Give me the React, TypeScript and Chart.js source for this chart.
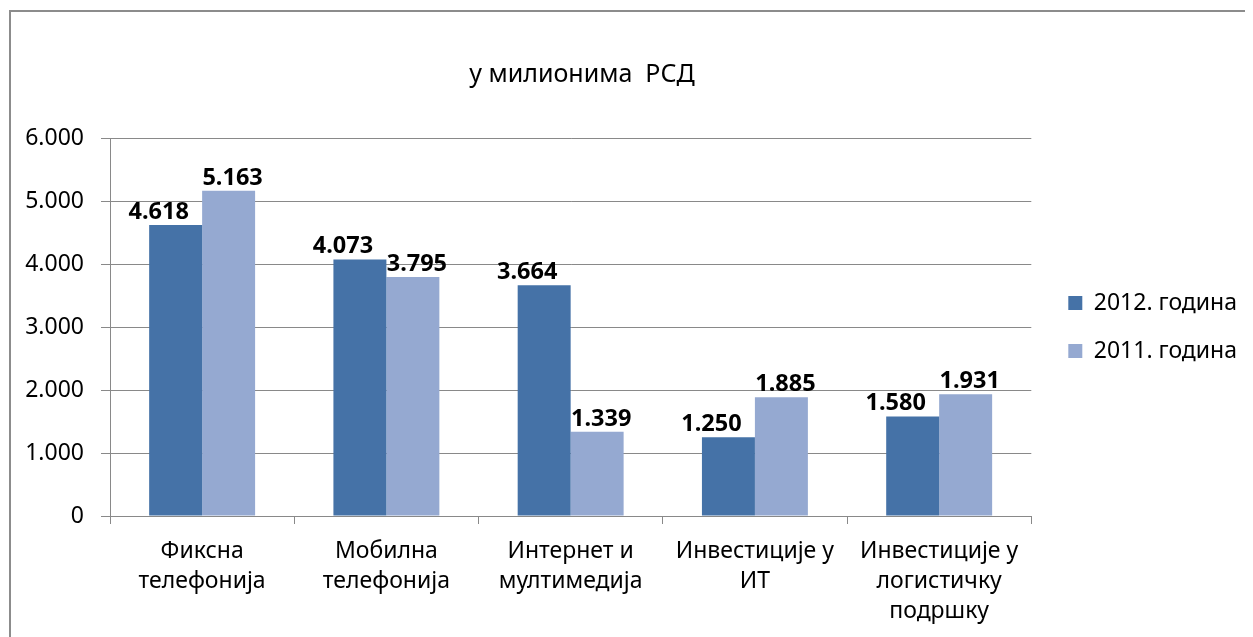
import React, { useEffect, useRef } from 'react';
import { Chart, registerables } from 'chart.js';

Chart.register(...registerables);

const categories: string[][] = [
  ['Фиксна', 'телефонија'],
  ['Мобилна', 'телефонија'],
  ['Интернет и', 'мултимедија'],
  ['Инвестиције у', 'ИТ'],
  ['Инвестиције у', 'логистичку', 'подршку'],
];
const series2012 = [4618, 4073, 3664, 1250, 1580];
const series2011 = [5163, 3795, 1339, 1885, 1931];
const seriesNames = ['2012. година', '2011. година'];
const yMin = 0;
const yMax = 6000;
const yStep = 1000;
const titleText = 'у милионима  РСД';

const FONT = "'Noto Sans', sans-serif";
const GREY = '#898989';

function fmt(v: number): string {
  return String(Math.round(v)).replace(/\B(?=(\d{3})+(?!\d))/g, '.');
}

const framePlugin = {
  id: 'frame',
  beforeDraw(chart: any) {
    const ctx = chart.ctx;
    ctx.save();
    ctx.strokeStyle = '#8c8c8c';
    ctx.lineWidth = 2;
    ctx.beginPath();
    ctx.moveTo(2, chart.height);
    ctx.lineTo(2, 3);
    ctx.lineTo(chart.width, 3);
    ctx.stroke();
    ctx.restore();
  },
};

const titlePlugin = {
  id: 'customTitle',
  afterDraw(chart: any) {
    const ctx = chart.ctx;
    ctx.save();
    ctx.font = `25px ${FONT}`;
    ctx.fillStyle = '#000';
    ctx.textAlign = 'center';
    ctx.textBaseline = 'middle';
    ctx.fillText(titleText, 574, 67);
    ctx.restore();
  },
};

const labelShift = [-17, 4];

const barLabelPlugin = {
  id: 'barLabels',
  afterDatasetsDraw(chart: any) {
    const ctx = chart.ctx;
    ctx.save();
    ctx.font = `bold 23.5px ${FONT}`;
    ctx.fillStyle = '#000';
    ctx.textAlign = 'center';
    ctx.textBaseline = 'alphabetic';
    chart.data.datasets.forEach((ds: any, di: number) => {
      const meta = chart.getDatasetMeta(di);
      meta.data.forEach((bar: any, i: number) => {
        ctx.fillText(fmt(ds.data[i]), bar.x + labelShift[di], bar.y - 6);
      });
    });
    ctx.restore();
  },
};

export default function App() {
  const ref = useRef<HTMLCanvasElement>(null);
  useEffect(() => {
    if (!ref.current) return;
    Chart.defaults.font.family = FONT;
    const chart = new Chart(ref.current, {
      type: 'bar',
      data: {
        labels: categories,
        datasets: [
          {
            label: seriesNames[0],
            data: series2012,
            backgroundColor: '#4572A7',
            categoryPercentage: 0.575,
            barPercentage: 1,
          },
          {
            label: seriesNames[1],
            data: series2011,
            backgroundColor: '#95A9D1',
            categoryPercentage: 0.575,
            barPercentage: 1,
          },
        ],
      },
      options: {
        responsive: false,
        animation: false,
        events: [],
        layout: { padding: { top: 130, right: 6, bottom: 0, left: 0 } },
        plugins: {
          title: { display: false },
          tooltip: { enabled: false },
          legend: {
            position: 'right',
            fullSize: false,
            labels: {
              boxWidth: 14,
              boxHeight: 14,
              padding: 25,
              color: '#000',
              font: { size: 23, family: FONT },
            },
          },
        },
        scales: {
          x: {
            grid: {
              display: true,
              drawOnChartArea: false,
              drawTicks: true,
              tickLength: 8,
              color: GREY,
              offset: true,
            },
            border: { display: true, color: GREY, width: 1 },
            ticks: {
              color: '#000',
              font: { size: 23, family: FONT, lineHeight: 1.3 },
              padding: 13,
              maxRotation: 0,
              autoSkip: false,
            },
            afterFit: (s: any) => {
              s.height = 121;
            },
          },
          y: {
            min: yMin,
            max: yMax,
            ticks: {
              stepSize: yStep,
              callback: (v: any) => fmt(Number(v)),
              color: '#000',
              font: { size: 23, family: FONT },
              padding: 17,
            },
            grid: { color: GREY, tickLength: 9, drawTicks: true },
            border: { color: GREY },
            afterFit: (s: any) => {
              s.width = 102;
            },
          },
          yr: {
            type: 'linear',
            position: 'right',
            display: true,
            ticks: { display: false },
            grid: { display: false, drawTicks: false },
            border: { display: false },
            afterFit: (s: any) => {
              s.width = 12;
            },
          },
        },
      } as any,
      plugins: [framePlugin, titlePlugin, barLabelPlugin],
    });
    return () => chart.destroy();
  }, []);
  return <canvas ref={ref} width={1245} height={629} style={{ display: 'block' }} />;
}
